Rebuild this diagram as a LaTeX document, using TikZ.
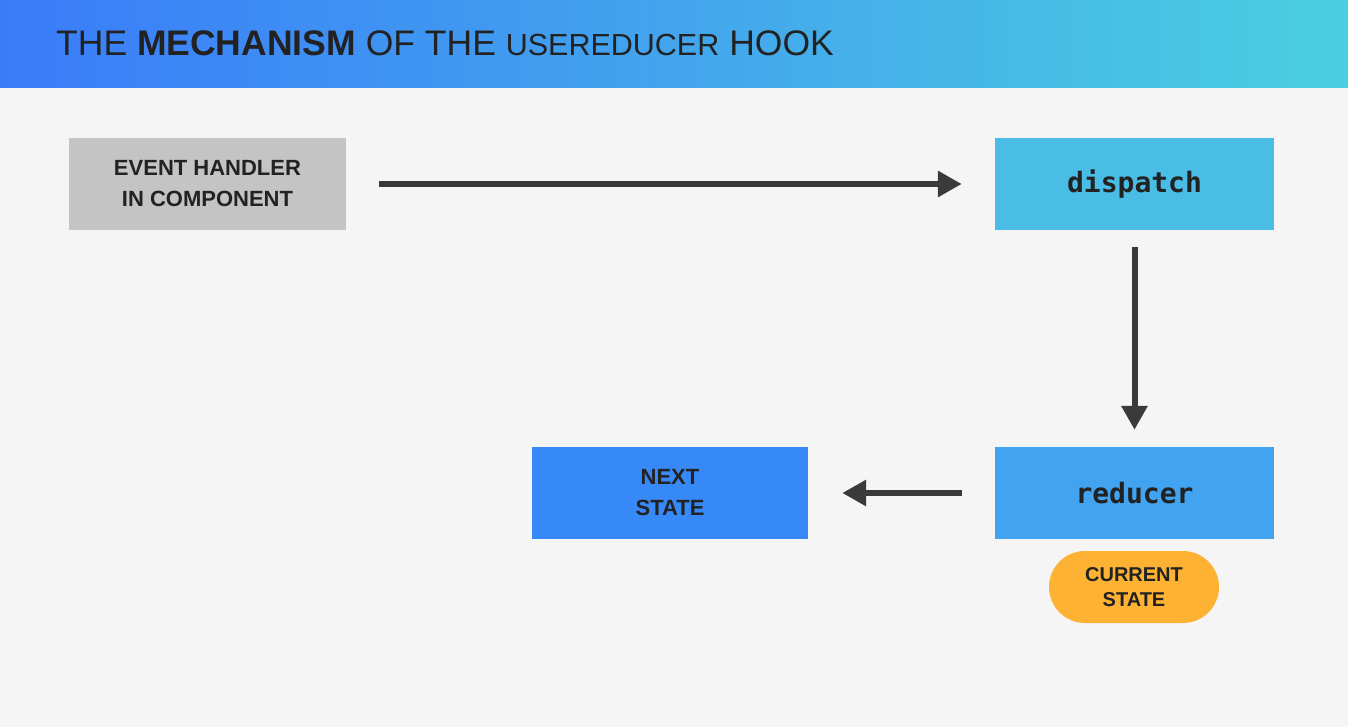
\documentclass[tikz,border=0pt]{standalone}
\usepackage{fontspec}
\setmainfont{Liberation Sans}
\newfontfamily\codefont{DejaVu Sans Mono}
\usetikzlibrary{arrows.meta}

\definecolor{pagebg}{HTML}{F5F5F5}
\definecolor{headleft}{HTML}{3A7BFA}
\definecolor{headright}{HTML}{4BCFE0}
\definecolor{inktext}{HTML}{222222}
\definecolor{arrowink}{HTML}{3A3A3A}
\definecolor{greybox}{HTML}{C4C4C4}
\definecolor{dispatchblue}{HTML}{4ABDE6}
\definecolor{reducerblue}{HTML}{42A4F0}
\definecolor{nextblue}{HTML}{3889F8}
\definecolor{stateorange}{HTML}{FDB234}

\tikzset{
  box/.style={rectangle, inner sep=0pt, minimum height=92pt, text=inktext,
    align=center, font=\fontsize{22}{31}\selectfont\bfseries},
  codebox/.style={box, font=\codefont\fontsize{28}{32}\selectfont\bfseries},
  pill/.style={rectangle, rounded corners=36pt, inner sep=0pt, minimum width=170pt,
    minimum height=72pt, fill=stateorange, text=inktext, align=center,
    font=\fontsize{20}{25.5}\selectfont\bfseries},
  flow/.style={draw=arrowink, line width=6pt,
    -{Triangle[length=24pt, width=25pt]}}
}

\begin{document}
\begin{tikzpicture}[x=1pt, y=-1pt]
  % page and header band
  \fill[pagebg] (0,0) rectangle (1348,727);
  \shade[left color=headleft, right color=headright] (0,0) rectangle (1348,88);
  \useasboundingbox (0,0) rectangle (1348,727);

  \node[anchor=base west, text=inktext, inner sep=0pt] (title) at (56,56)
    {\fontsize{35.5}{40}\selectfont THE \textbf{MECHANISM} OF THE {\fontsize{30.5}{36}\selectfont USEREDUCER} HOOK};

  % boxes
  \node[box, fill=greybox, minimum width=277pt] (handler) at (207.5,184)
    {EVENT HANDLER\\IN COMPONENT};
  \node[codebox, fill=dispatchblue, minimum width=279pt] (dispatch) at (1134.5,184)
    {dispatch};
  \node[codebox, fill=reducerblue, minimum width=279pt] (reducer) at (1134.5,493)
    {reducer};
  \node[box, fill=nextblue, minimum width=276pt] (next) at (670,493)
    {NEXT\\STATE};
  \node[pill] (current) at (1134,587) {CURRENT\\STATE};

  % connectors
  \draw[flow, shorten <=33pt, shorten >=33pt] (handler.east) -- (dispatch.west);
  \draw[flow, shorten <=17pt, shorten >=17pt] (dispatch.south) -- (reducer.north);
  \draw[flow, shorten <=33pt, shorten >=34pt] (reducer.west) -- (next.east);
\end{tikzpicture}
\end{document}
